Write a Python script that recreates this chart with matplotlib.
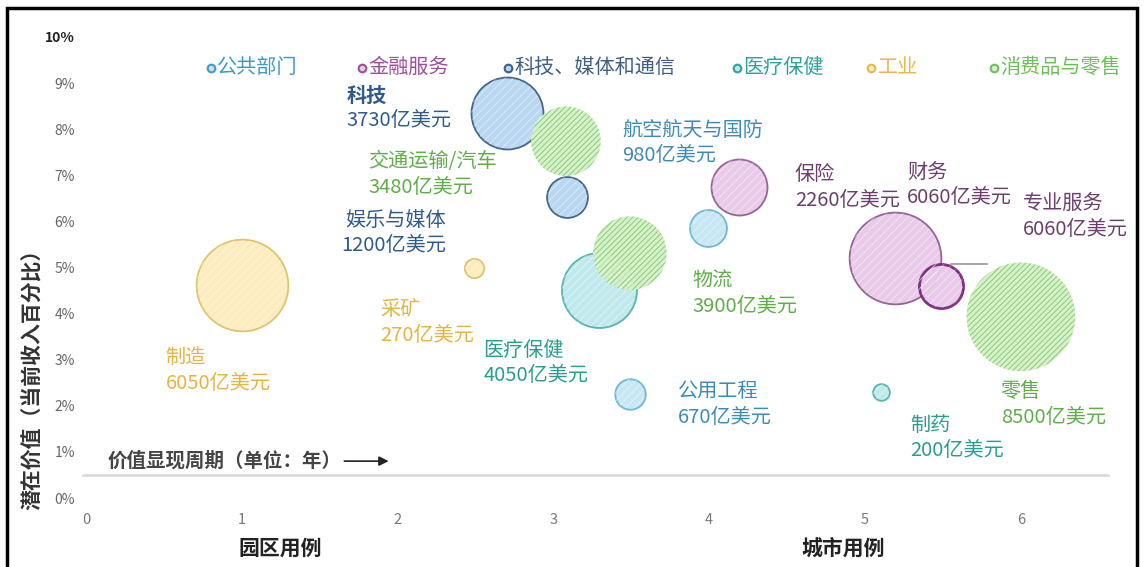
import matplotlib
matplotlib.use("Agg")
import matplotlib.pyplot as plt
from matplotlib.patches import Rectangle

plt.rcParams["font.family"] = ["Noto Sans CJK SC", "DejaVu Sans"]

# ============================================================
# Data
# ============================================================

categories = ["公共部门", "金融服务", "科技、媒体和通信", "医疗保健", "工业", "消费品与零售"]

sector_names = ["制造", "采矿", "科技", "交通运输/汽车", "娱乐与媒体", "医疗保健", "物流",
                "公用工程", "航空航天与国防", "保险", "财务", "专业服务", "零售", "制药"]
sector_values = ["6050亿美元", "270亿美元", "3730亿美元", "3480亿美元", "1200亿美元", "4050亿美元",
                 "3900亿美元", "670亿美元", "980亿美元", "2260亿美元", "6060亿美元", "6060亿美元",
                 "8500亿美元", "200亿美元"]
sector_cat = [4, 4, 2, 5, 2, 3, 5, 0, 0, 1, 1, 1, 5, 3]

# years to value (x), potential value % of revenue (y), bubble size (亿美元)
years = [1.00, 2.49, 2.70, 3.08, 3.09, 3.29, 3.49, 3.49, 3.99, 4.19, 5.19, 5.49, 6.00, 5.10]
potential = [4.62, 4.99, 8.35, 7.74, 6.53, 4.51, 5.31, 2.26, 5.86, 6.75, 5.21, 4.60, 3.93, 2.30]
bubble_size = [6050, 270, 3730, 3480, 1200, 4050, 3900, 670, 980, 2260, 6060, 1400, 8500, 200]

# label anchors (first line)
label_x = [0.51, 1.89, 1.67, 1.81, 2.31, 2.55, 3.89, 3.80, 3.44, 4.55, 5.27, 6.01, 5.87, 5.29]
label_y = [3.04, 4.08, 8.74, 7.29, 6.03, 3.21, 4.71, 2.30, 7.98, 7.01, 7.07, 6.38, 2.30, 1.58]
label_ha = ["left", "left", "left", "left", "right", "left", "left", "left", "left",
            "left", "left", "left", "left", "left"]

x_ticks = [0, 1, 2, 3, 4, 5, 6]
y_ticks = [0, 1, 2, 3, 4, 5, 6, 7, 8, 9, 10]

legend_x = [0.80, 1.77, 2.71, 4.18, 5.04, 5.83]

# ============================================================
# Styles
# ============================================================

face = ["#c4e6f4", "#e8c8e8", "#b6d5f0", "#bde8ec", "#fdebbb", "#d8f0cc"]
edge = ["#6ab6d2", "#8f5f8f", "#3f5f85", "#52b3a8", "#dcc26c", "#86cf70"]
label_col = ["#3d8cb5", "#6b3f6b", "#2f5b8c", "#2a9d90", "#e5b445", "#5fae4a"]
legend_col = ["#3d9cc0", "#9b4f9b", "#3e5f85", "#2aa39a", "#e6b94a", "#6cc05a"]

SIZE_SCALE = 0.72
FS = 14.5

fig = plt.figure(figsize=(11.44, 5.67), dpi=100)
ax = fig.add_axes([86 / 1144, 69 / 567, 1044 / 1144, 461 / 567])
ax.set_xlim(0, 6.70)
ax.set_ylim(0, 10)

# ============================================================
# Bubbles
# ============================================================

plt.rcParams["hatch.linewidth"] = 0.7
for i in range(len(years)):
    c = sector_cat[i]
    s = bubble_size[i] * SIZE_SCALE
    if c == 5:
        ax.scatter(years[i], potential[i], s=s, facecolor=face[c], edgecolor=edge[c],
                   linewidth=0, hatch="//////", zorder=3)
    else:
        lw = 2.0 if sector_names[i] == "专业服务" else 1.3
        ec = "#7a2a7a" if sector_names[i] == "专业服务" else edge[c]
        ax.scatter(years[i], potential[i], s=s, facecolor=face[c], edgecolor=ec,
                   linewidth=lw, alpha=0.95, zorder=3)
        ax.scatter(years[i], potential[i], s=s * 0.97, facecolor="none",
                   edgecolor=(1, 1, 1, 0.45), linewidth=0, hatch="////", zorder=4)

# leader line near 专业服务
ax.plot([5.55, 5.78], [5.08, 5.08], color="#999999", lw=1.2, zorder=2)

# ============================================================
# Labels
# ============================================================

for i in range(len(sector_names)):
    c = sector_cat[i]
    bold = sector_names[i] == "科技"
    ax.text(label_x[i], label_y[i], sector_names[i], color=label_col[c], fontsize=FS,
            ha=label_ha[i], va="center", fontweight="bold" if bold else "normal", zorder=5)
    ax.annotate(sector_values[i], (label_x[i], label_y[i]), xytext=(0, -18.5),
                textcoords="offset points", color=label_col[c], fontsize=FS,
                ha=label_ha[i], va="center", zorder=5)

# legend
for i, cat in enumerate(categories):
    ax.plot(legend_x[i], 9.33, "o", ms=5.5, mfc=face[i], mec=legend_col[i], mew=1.5,
            clip_on=False)
    ax.text(legend_x[i] + 0.04, 9.33, cat, color=legend_col[i], fontsize=FS,
            ha="left", va="center")

# baseline
ax.plot([-0.02, 6.56], [0.5, 0.5], color="#d6d6d6", lw=1.8, zorder=1, clip_on=False)

ax.text(0.14, 0.80, "价值显现周期（单位：年）", fontsize=14, fontweight="bold",
        color="#444444", ha="left", va="center")
ax.annotate("", xy=(1.96, 0.80), xytext=(1.64, 0.80),
            arrowprops=dict(arrowstyle="-|>", color="#222222", lw=1.2, mutation_scale=14))

# ============================================================
# Axes
# ============================================================

for sp in ax.spines.values():
    sp.set_visible(False)

ax.set_xticks(x_ticks)
ax.set_xticklabels([str(t) for t in x_ticks], color="#777777", fontsize=10.5)
ax.set_yticks(y_ticks)
ax.set_yticklabels([f"{t}%" for t in y_ticks], color="#666666", fontsize=10)
ax.get_yticklabels()[-1].set_color("#222222")
ax.get_yticklabels()[-1].set_fontweight("bold")
ax.tick_params(axis="both", length=0)
ax.tick_params(axis="x", pad=11)
ax.tick_params(axis="y", pad=8)

ax.text(1.245, -1.08, "园区用例", fontsize=15, fontweight="bold", color="#222222",
        ha="center", va="center")
ax.text(4.86, -1.08, "城市用例", fontsize=15, fontweight="bold", color="#222222",
        ha="center", va="center")

fig.text(32 / 1144, 0.339, "潜在价值（当前收入百分比）", rotation=90, fontsize=15,
         fontweight="bold", color="#333333", ha="center", va="center")

fig.patches.append(Rectangle((7 / 1144, -0.02), 1130 / 1144, 0.02 + 559 / 567,
                             transform=fig.transFigure, fill=False, lw=2.5,
                             edgecolor="black"))

fig.savefig("out.png", dpi=100)
